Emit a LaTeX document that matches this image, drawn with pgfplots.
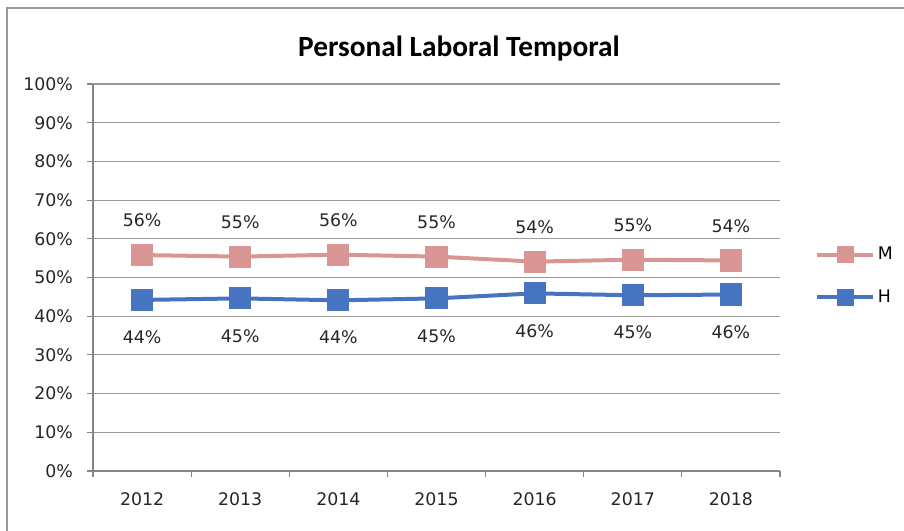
\documentclass[border=0pt]{standalone}
\usepackage{fontspec}
\setmainfont{DejaVu Sans}
\newfontfamily\titlefont{Carlito}
\usepackage{pgfplots}
\pgfplotsset{compat=1.18}
\definecolor{mcol}{RGB}{217,150,148}
\definecolor{hcol}{RGB}{70,116,192}
\definecolor{gridc}{gray}{0.60}
\definecolor{axc}{gray}{0.52}
\begin{document}
\begin{tikzpicture}
% 1 px of the reference = 0.75pt
\useasboundingbox (0pt,0pt) rectangle (678pt,398.25pt);
\draw[draw=gray!80, line width=0.8pt] (5.25pt,392.25pt) rectangle (700pt,-15pt);
\node[font=\titlefont\bfseries\fontsize{22}{26}\selectfont] at (344.25pt,362pt) {Personal Laboral Temporal};
\begin{axis}[
  at={(69.75pt,45pt)}, anchor=south west,
  scale only axis, width=515.25pt, height=290.25pt,
  xmin=-0.5, xmax=6.5, ymin=0, ymax=100,
  axis lines*=left,
  axis line style={draw=axc, line width=0.8pt},
  xtick={0,...,6},
  xticklabels={2012,2013,2014,2015,2016,2017,2018},
  major x tick style={draw=none},
  minor xtick={-0.5,0.5,...,6.5},
  minor tick length=4.5pt,
  minor tick style={draw=axc, line width=0.8pt},
  ytick={0,10,...,100},
  yticklabels={0\%,10\%,20\%,30\%,40\%,50\%,60\%,70\%,80\%,90\%,100\%},
  major tick length=4.5pt,
  tick align=outside,
  major y tick style={draw=axc, line width=0.8pt},
  ymajorgrids, grid style={draw=gridc, line width=0.8pt},
  ticklabel style={font=\fontsize{13}{15}\selectfont, text=black!85},
  xticklabel style={yshift=-8pt},
  yticklabel style={xshift=-7pt},
  /pgf/number format/assume math mode=true,
  nodes near coords={\pgfmathprintnumber[fixed,precision=0]{\pgfplotspointmeta}\%},
  every node near coord/.append style={font=\fontsize{13}{15}\selectfont, text=black!85, anchor=center},
  legend style={at={(1.051,0.504)}, anchor=west, draw=none, fill=none,
    font=\fontsize{13}{15}\selectfont, row sep=17pt, inner sep=0pt},
  legend cell align=left,
  legend image code/.code={
    \draw[#1, mark=none] (0pt,0pt) -- (42pt,0pt);
    \draw[#1, mark size=5pt] plot coordinates {(21pt,0pt)};
  },
]
\addplot[color=mcol, line width=3pt, mark=square*, mark size=6.8pt,
  every node near coord/.append style={yshift=26pt}]
  coordinates {(0,55.8) (1,55.4) (2,55.9) (3,55.4) (4,54.1) (5,54.6) (6,54.4)};
\addplot[color=hcol, line width=3pt, mark=square*, mark size=6.8pt,
  every node near coord/.append style={yshift=-28pt}]
  coordinates {(0,44.2) (1,44.6) (2,44.1) (3,44.6) (4,45.9) (5,45.4) (6,45.6)};
\legend{M,H}
\end{axis}
\end{tikzpicture}
\end{document}
